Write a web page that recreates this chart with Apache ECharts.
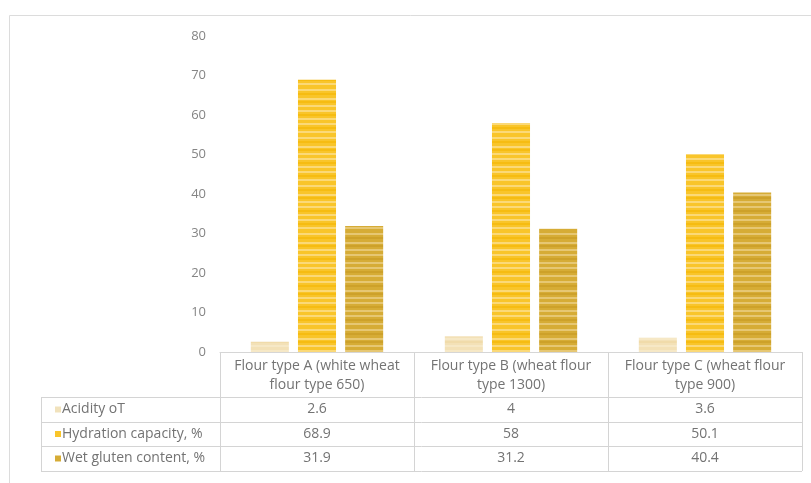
<!DOCTYPE html>
<html><head><meta charset="utf-8">
<script src="https://cdn.jsdelivr.net/npm/echarts@6/dist/echarts.min.js"></script>
<style>html,body{margin:0;padding:0;background:#fff}#c{width:811px;height:483px}</style>
</head><body><div id="c"></div>
<script>
const categories = ['Flour type A (white wheat\nflour type 650)', 'Flour type B (wheat flour\ntype 1300)', 'Flour type C (wheat flour\ntype 900)'];
const seriesNames = ['Acidity oT', 'Hydration capacity, %', 'Wet gluten content, %'];
const acidity = [2.6, 4, 3.6];
const hydration = [68.9, 58, 50.1];
const gluten = [31.9, 31.2, 40.4];
const yTicks = [0, 10, 20, 30, 40, 50, 60, 70, 80];

function stripes(base, light, dark) {
  const c = document.createElement('canvas');
  c.width = 4; c.height = 48;
  const g = c.getContext('2d');
  g.fillStyle = base; g.fillRect(0, 0, 4, 48);
  const lightRows = [2, 9, 14, 22, 27, 35, 41];
  const darkRows = [5, 18, 31, 45];
  g.fillStyle = light; lightRows.forEach(y => g.fillRect(0, y, 4, 2));
  g.fillStyle = dark; darkRows.forEach(y => g.fillRect(0, y, 4, 2));
  return { image: c, repeat: 'repeat' };
}
const colAcid = '#F1E2BC';
const colHyd = '#F9C52A';
const colGlu = '#D6AC36';
const fillAcid = stripes('#F3E1B7', '#F6E8C6', '#F0DBAA');
const fillHyd = stripes('#F9C52A', '#FBD977', '#F6BC12');
const fillGlu = stripes('#D6AC36', '#E6C773', '#CDA12A');

const chart = echarts.init(document.getElementById('c'));
const font = '"Open Sans", "Liberation Sans", sans-serif';
const txt = '#737373';
const values = [acidity, hydration, gluten];
const fills = [fillAcid, fillHyd, fillGlu];
const keys = [colAcid, colHyd, colGlu];

chart.setOption({
  animation: false,
  backgroundColor: '#fff',
  grid: { left: 220, right: 9, top: 36, bottom: 131 },
  xAxis: {
    type: 'category', data: categories,
    axisLine: { show: true, lineStyle: { color: '#d6d6d6' } },
    axisTick: { show: false }, axisLabel: { show: false }
  },
  yAxis: {
    type: 'value', min: 0, max: 80, interval: 10,
    splitLine: { show: false }, axisLine: { show: false }, axisTick: { show: false },
    axisLabel: { color: '#858585', fontFamily: font, fontSize: 13, margin: 14,
      formatter: v => yTicks.includes(v) ? String(v) : '' }
  },
  series: seriesNames.map((n, i) => ({
    name: n, type: 'bar', data: values[i],
    barWidth: '19.6%', barGap: '24%',
    itemStyle: { color: fills[i] }
  }))
});

// Data table below the plot
const band = chart.convertToPixel({ xAxisIndex: 0 }, 1) - chart.convertToPixel({ xAxisIndex: 0 }, 0);
const centers = categories.map((c, i) => chart.convertToPixel({ xAxisIndex: 0 }, i));
const xs = [centers[0] - band / 2].concat(centers.map(c => c + band / 2));
const yTop = chart.convertToPixel({ yAxisIndex: 0 }, 0);
const rowYs = [yTop + 45, yTop + 70, yTop + 94, yTop + 119];
const tableLeft = 41;
const lineStyle = { stroke: '#d4d4d4', lineWidth: 1 };
const els = [];
els.push({ type: 'rect', shape: { x: 9.5, y: 15.5, width: 820, height: 500 }, style: { fill: 'none', stroke: '#dcdcdc', lineWidth: 1 }, silent: true });
rowYs.forEach(y => els.push({ type: 'line', shape: { x1: tableLeft, y1: Math.round(y) + 0.5, x2: xs[3], y2: Math.round(y) + 0.5 }, style: lineStyle }));
xs.forEach(x => els.push({ type: 'line', shape: { x1: Math.round(x) + 0.5, y1: yTop, x2: Math.round(x) + 0.5, y2: rowYs[3] }, style: lineStyle }));
els.push({ type: 'line', shape: { x1: tableLeft + 0.5, y1: rowYs[0], x2: tableLeft + 0.5, y2: rowYs[3] }, style: lineStyle });
categories.forEach((c, i) => els.push({ type: 'text', x: centers[i], y: (yTop + rowYs[0]) / 2 + 1,
  style: { text: c, fill: txt, font: '14px ' + font, align: 'center', verticalAlign: 'middle', lineHeight: 19 } }));
seriesNames.forEach((n, r) => {
  const cy = (rowYs[r] + rowYs[r + 1]) / 2;
  els.push({ type: 'rect', shape: { x: 55, y: cy - 3, width: 6, height: 6 }, style: { fill: keys[r] } });
  els.push({ type: 'text', x: 62, y: cy, style: { text: n, fill: txt, font: '14px ' + font, align: 'left', verticalAlign: 'middle' } });
  values[r].forEach((v, i) => els.push({ type: 'text', x: centers[i], y: cy,
    style: { text: String(v), fill: txt, font: '14px ' + font, align: 'center', verticalAlign: 'middle' } }));
});
chart.setOption({ graphic: { elements: els } });
</script></body></html>
